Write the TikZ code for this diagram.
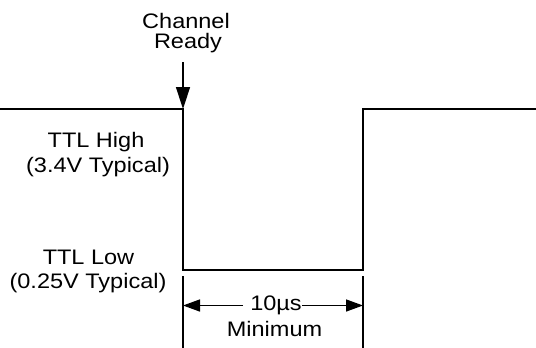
\documentclass[tikz,border=0pt]{standalone}
\usepackage{fontspec}
\setmainfont{Liberation Sans}[FakeStretch=1.12]
\usetikzlibrary{arrows.meta}
\begin{document}
\begin{tikzpicture}[x=1pt,y=-1pt,
  lbl/.style={font=\fontsize{21pt}{25pt}\selectfont, inner sep=0pt, anchor=base},
  wave/.style={line width=2pt, line join=miter},
  tick/.style={line width=1.5pt},
  ptr/.style={line width=1.5pt, -{Triangle[length=22pt,width=14pt]}},
  dim/.style={line width=1.5pt, -{Triangle[length=17pt,width=12pt]}}]
\useasboundingbox (0,0) rectangle (536,348);
% waveform
\coordinate (w0) at (0,109);
\coordinate (w1) at (183,109);
\coordinate (w2) at (183,270);
\coordinate (w3) at (363,270);
\coordinate (w4) at (363,109);
\coordinate (w5) at (536,109);
\draw[wave] (w0) -- (w1) -- (w2) -- (w3) -- (w4) -- (w5);
% channel ready
\node[lbl] (ch1) at (186,28) {Channel};
\node[lbl] (ch2) at (188,48) {Ready};
\coordinate (ptrs) at (183,62);
\draw[ptr] (ptrs) -- (w1);
% level labels
\node[lbl] (hi1) at (96,147) {TTL High};
\node[lbl] (hi2) at (98,172) {(3.4V Typical)};
\node[lbl] (lo1) at (88.5,264) {TTL Low};
\node[lbl] (lo2) at (88,288) {(0.25V Typical)};
% dimension
\coordinate (tl1) at (183,276);
\coordinate (tl2) at (183,348);
\coordinate (tr1) at (363,276);
\coordinate (tr2) at (363,348);
\draw[tick] (tl1) -- (tl2);
\draw[tick] (tr1) -- (tr2);
\node[lbl] (d1) at (276,310) {10µs};
\node[lbl] (d2) at (274.5,336) {Minimum};
\coordinate (dl) at (243,305.5);
\coordinate (dr) at (302,305.5);
\draw[dim] (dl) -- (dl -| tl1);
\draw[dim] (dr) -- (dr -| tr1);
\end{tikzpicture}
\end{document}
